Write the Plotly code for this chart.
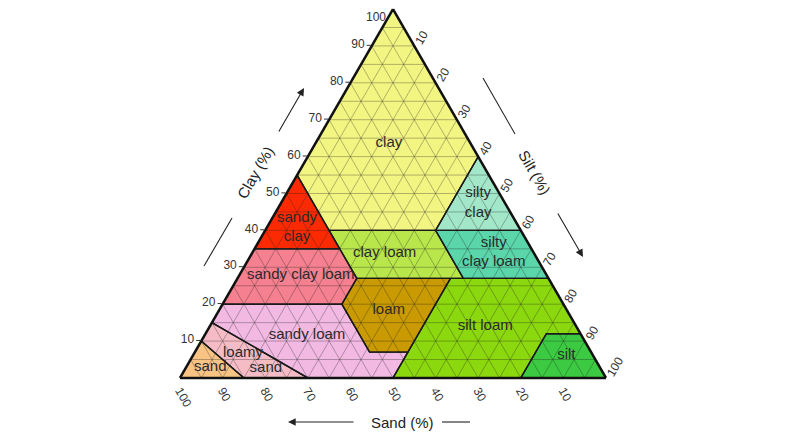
import plotly.graph_objects as go

W, H = 802, 431
OFF = 8  # page body margin

# Soil texture classes: polygon vertices as (clay, sand, silt) percentages
names = ["clay", "sandy clay", "silty clay", "sandy clay loam", "clay loam",
         "silty clay loam", "loam", "silt loam", "silt", "sandy loam",
         "loamy sand", "sand"]
clay_pts = [
    [100, 55, 40, 40, 60],
    [55, 35, 35],
    [60, 40, 40],
    [35, 20, 20, 27, 35],
    [40, 27, 27, 40],
    [40, 27, 27, 40],
    [27, 20, 7, 7, 27],
    [27, 27, 12, 12, 0, 0, 7],
    [12, 0, 0, 12],
    [20, 15, 0, 0, 7, 7, 20],
    [15, 10, 0, 0],
    [10, 0, 0],
]
sand_pts = [
    [0, 45, 45, 20, 0],
    [45, 65, 45],
    [0, 0, 20],
    [65, 80, 52, 45, 45],
    [45, 45, 20, 20],
    [20, 20, 0, 0],
    [45, 52, 52, 43, 23],
    [23, 0, 0, 8, 20, 50, 43],
    [0, 0, 20, 8],
    [80, 85, 70, 50, 43, 52, 52],
    [85, 90, 85, 70],
    [90, 100, 85],
]
silt_pts = [
    [0, 0, 15, 40, 40],
    [0, 0, 20],
    [40, 60, 40],
    [0, 0, 28, 28, 20],
    [15, 28, 53, 40],
    [40, 53, 73, 60],
    [28, 28, 41, 50, 50],
    [50, 73, 88, 80, 80, 50, 50],
    [88, 100, 80, 80],
    [0, 0, 30, 50, 50, 41, 28],
    [0, 0, 15, 30],
    [0, 0, 15],
]
colors = ["#f3f582", "#fc2a02", "#a3e7c9", "#f5808f", "#b9e64a",
          "#5ad6aa", "#c99a02", "#8cd80e", "#3cca42", "#f2b9e2",
          "#f5bcc6", "#f9c384"]

# Label texts and their positions (clay, sand, silt)
label_text = ["clay", "sandy<br>clay", "silty<br>clay", "sandy clay loam",
              "clay loam", "silty<br>clay loam", "loam", "silt loam", "silt",
              "sandy loam", "loamy", "sand", "sand"]
label_clay = [63.7, 40.65, 47.4, 27.9, 33.9, 33.9, 18.4, 14.1, 6.2, 11.65, 6.8, 2.7, 3.0]
label_sand = [19.1, 52.2, 6.3, 57.7, 35.0, 9.4, 41.8, 21.3, 6.2, 64.4, 81.8, 78.5, 91.4]
label_silt = [17.2, 7.15, 46.3, 14.4, 31.1, 56.7, 39.8, 64.6, 87.6, 24.0, 11.4, 18.8, 5.6]

tick_vals = list(range(10, 101, 10))
tick_text = [str(v) for v in tick_vals]
grid_vals = list(range(5, 100, 5))

fig = go.Figure()

# Filled regions
for n, a, b, c, col in zip(names, clay_pts, sand_pts, silt_pts, colors):
    fig.add_trace(go.Scatterternary(
        a=a + [a[0]], b=b + [b[0]], c=c + [c[0]],
        mode="lines", fill="toself", fillcolor=col,
        line=dict(color=col, width=0),
        name=n, hoverinfo="skip", showlegend=False))

# Grid (every 5 %)
ga, gb, gc = [], [], []
for v in grid_vals:
    r = 100 - v
    ga += [v, v, None]; gb += [r, 0, None]; gc += [0, r, None]
    ga += [r, 0, None]; gb += [v, v, None]; gc += [0, r, None]
    ga += [r, 0, None]; gb += [0, r, None]; gc += [v, v, None]
fig.add_trace(go.Scatterternary(
    a=ga, b=gb, c=gc, mode="lines", connectgaps=False,
    line=dict(color="rgba(30,30,30,0.40)", width=0.8),
    hoverinfo="skip", showlegend=False))

# Region borders
for n, a, b, c in zip(names, clay_pts, sand_pts, silt_pts):
    fig.add_trace(go.Scatterternary(
        a=a + [a[0]], b=b + [b[0]], c=c + [c[0]],
        mode="lines", line=dict(color="#1a1a1a", width=1.4),
        hoverinfo="skip", showlegend=False))

# Region labels
fig.add_trace(go.Scatterternary(
    a=label_clay, b=label_sand, c=label_silt, mode="text",
    text=label_text, cliponaxis=False,
    textfont=dict(family="Liberation Sans, Arial", size=15, color="#2a2a2a"),
    hoverinfo="skip", showlegend=False))

axis_common = dict(
    tickmode="array", tickvals=tick_vals, ticktext=tick_text,
    showgrid=False,
    showline=True, linecolor="#111", linewidth=2.5,
    layer="above traces", min=0,
    tickfont=dict(family="Liberation Sans, Arial", size=12, color="#333"),
    title=dict(text=""),
)


def P(x, y):
    return (x - OFF) / W, 1 - (y - OFF) / H


dx0, dy1 = P(180, 9)
dx1, dy0 = P(606, 378)

fig.update_layout(
    width=W, height=H,
    margin=dict(l=0, r=0, t=0, b=0),
    paper_bgcolor="white",
    showlegend=False,
    ternary=dict(
        sum=100,
        bgcolor="white",
        domain=dict(x=[dx0, dx1], y=[dy0, dy1]),
        aaxis=dict(axis_common, tickvals=tick_vals[:-1], ticktext=tick_text[:-1],
                   tickangle=0, ticks="outside", ticklen=4,
                   tickcolor="#333", tickwidth=1),
        baxis=dict(axis_common, tickangle=60, ticks=""),
        caxis=dict(axis_common, tickangle=-60, ticks=""),
    ),
)

font = dict(family="Liberation Sans, Arial", size=15, color="#222")

# Top "100" of the clay axis (kept inside the page)
px, py = P(388, 8)
fig.add_annotation(x=px, y=py, xref="paper", yref="paper", text=tick_text[-1],
                   showarrow=False, xanchor="right", yanchor="top",
                   font=dict(family="Liberation Sans, Arial", size=12, color="#333"))

# Axis titles
for txt, (x, y), ang in [("Clay (%)", (255, 172), -60),
                         ("Silt (%)", (535, 172), 60),
                         ("Sand (%)", (402, 422), 0)]:
    px, py = P(x, y)
    fig.add_annotation(x=px, y=py, xref="paper", yref="paper", text=txt,
                       showarrow=False, textangle=ang, font=font,
                       xanchor="center", yanchor="middle")

# Arrows (head position, tail offset in pixels)
for (hx, hy), (ax, ay) in [((304, 88), (-26, 45)),
                           ((583, 257), (-26, -45)),
                           ((288, 422), (67, 0))]:
    px, py = P(hx, hy)
    fig.add_annotation(x=px, y=py, xref="paper", yref="paper", text="",
                       showarrow=True, ax=ax, ay=ay, arrowhead=2,
                       arrowsize=1.4, arrowwidth=1.1, arrowcolor="#222")

# Plain lines
for (x0, y0), (x1, y1) in [((204, 266), (232, 218)),
                           ((483, 78), (515, 134)),
                           ((442, 422), (470, 422))]:
    a0, b0 = P(x0, y0)
    a1, b1 = P(x1, y1)
    fig.add_shape(type="line", xref="paper", yref="paper", x0=a0, y0=b0,
                  x1=a1, y1=b1, line=dict(color="#222", width=1.1))

fig.write_html("out.html")
